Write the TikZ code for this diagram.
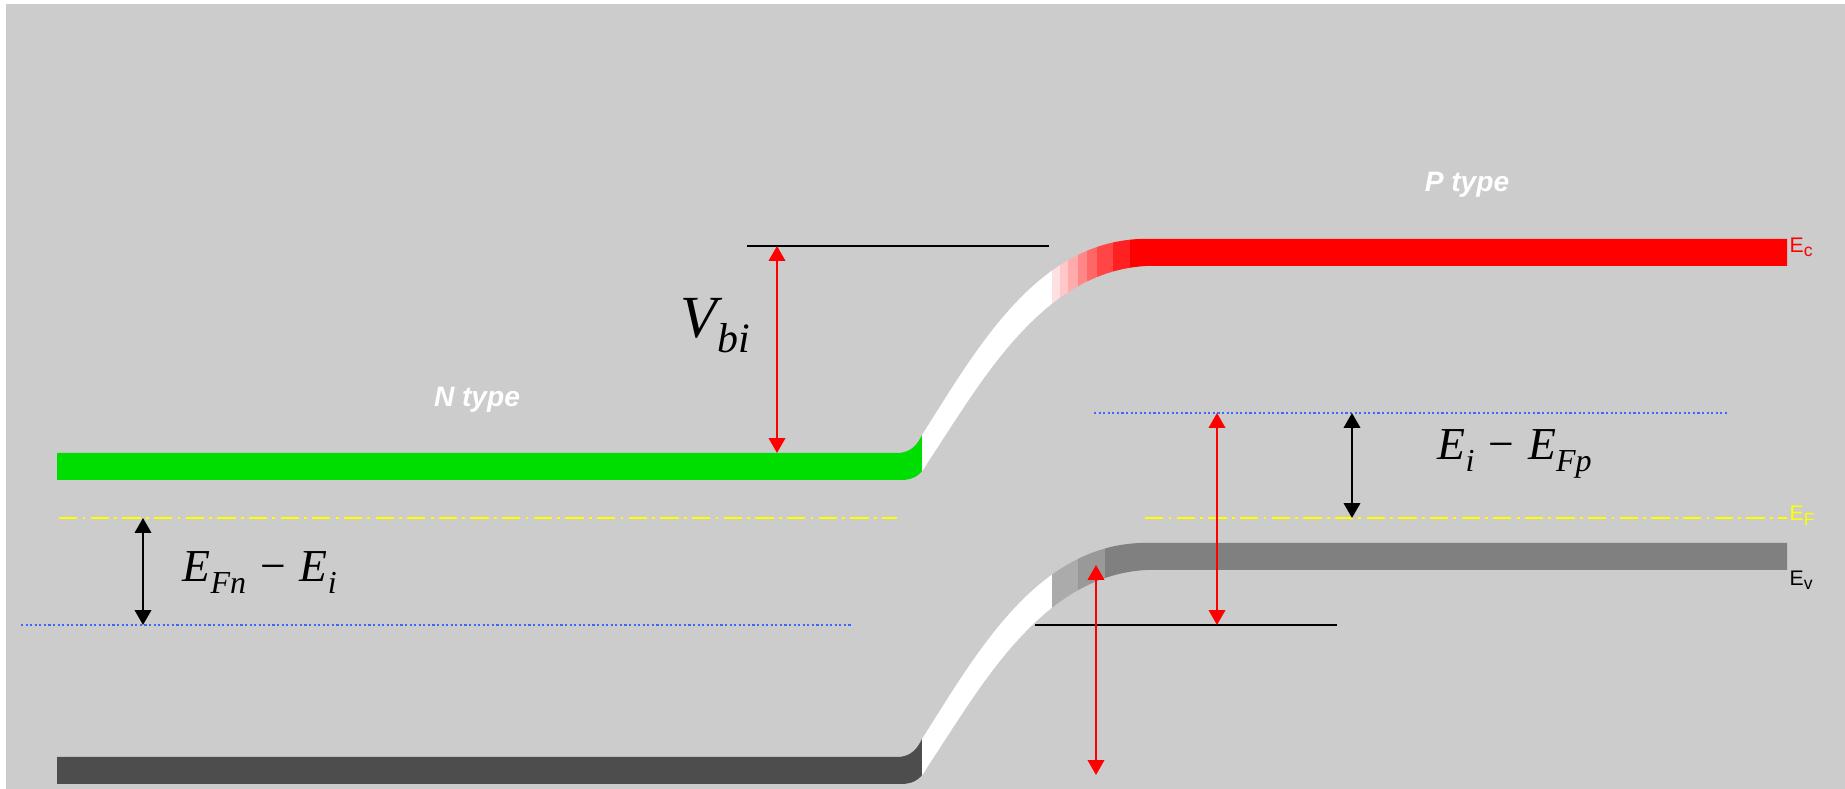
\documentclass[tikz,border=0pt]{standalone}
\usepackage{fontspec}
\setmainfont{Liberation Serif}
\setsansfont{Liberation Sans}
\usetikzlibrary{arrows.meta}
\definecolor{panel}{HTML}{CCCCCC}
\definecolor{ngreen}{HTML}{00DD00}
\definecolor{cbred}{HTML}{FF0000}
\definecolor{vbdark}{HTML}{4D4D4D}
\definecolor{vbgray}{HTML}{808080}
\definecolor{fermiyellow}{HTML}{FFFF00}
\definecolor{midgapblue}{HTML}{3F66FF}
\newcommand{\lowsub}[1]{\raisebox{-0.25em}{\scalebox{0.7}{#1}}}
\newcommand{\bandoutline}[1]{(57,453+#1) -- (897,453+#1) .. controls (912,453+#1) and (918,443+#1) .. (922,435+#1) .. controls (975,352+#1) and (1035,243+#1) .. (1140,239+#1) -- (1787,239+#1) -- (1787,266+#1) -- (1146,266+#1) .. controls (1041,272+#1) and (981,382+#1) .. (928,462+#1) .. controls (922,473+#1) and (916,480+#1) .. (901,480+#1) -- (57,480+#1) -- cycle}
\tikzset{
  levelline/.style={draw=black,line width=0.6pt},
  fermiline/.style={draw=fermiyellow,line width=0.7pt,dash pattern=on 5.2pt off 1.5pt on 0.8pt off 1.5pt},
  midgapline/.style={draw=midgapblue,line width=0.6pt,dash pattern=on 0.6pt off 0.7pt},
  gaparrow/.style={{Triangle[length=4.2pt,width=4.6pt]}-{Triangle[length=4.2pt,width=4.6pt]},line width=0.75pt,draw=black},
  bendarrow/.style={gaparrow,draw=cbred},
  typelabel/.style={font=\sffamily\bfseries\itshape\fontsize{8}{9}\selectfont,text=white,inner sep=0pt},
  bandname/.style={font=\sffamily\fontsize{6}{6}\selectfont,inner sep=0pt,anchor=base west},
  energylabel/.style={font=\itshape\fontsize{13}{15}\selectfont,inner sep=0pt,anchor=base west}
}
\begin{document}
\begin{tikzpicture}[x=0.01cm,y=-0.01cm]
\useasboundingbox (0,0) rectangle (1845,789);
\fill[white] (0,0) rectangle (1845,789);
\fill[panel] (6,4) rectangle (1845,789);

% conduction band
\begin{scope}
\clip \bandoutline{0};
\fill[ngreen] (0,0) rectangle (922,789);
\fill[white] (922,0) rectangle (1052,789);
\foreach \xa/\xb/\p in {1052/1060/12,1060/1068/22,1068/1078/33,1078/1087/47,1087/1097/60,1097/1113/73,1113/1130/87}
  \fill[cbred!\p!white] (\xa,0) rectangle (\xb,789);
\fill[cbred] (1130,0) rectangle (1845,789);
\end{scope}

% valence band
\begin{scope}
\clip \bandoutline{304};
\fill[vbdark] (0,0) rectangle (922,789);
\fill[white] (922,0) rectangle (1052,789);
\fill[black!33] (1052,0) rectangle (1078,789);
\fill[black!40] (1078,0) rectangle (1105,789);
\fill[vbgray] (1105,0) rectangle (1845,789);
\end{scope}

\coordinate (efnL) at (59,518);
\coordinate (efnR) at (897,518);
\coordinate (efpL) at (1145,518);
\coordinate (efpR) at (1787,518);
\coordinate (einL) at (21,625);
\coordinate (einR) at (852,625);
\coordinate (eipL) at (1094,413);
\coordinate (eipR) at (1727,413);
\coordinate (vbiL) at (747,246);
\coordinate (vbiR) at (1049,246);
\coordinate (refL) at (1035,625);
\coordinate (refR) at (1337,625);
\coordinate (vbiTop) at (777,246);
\coordinate (vbiBot) at (777,453);
\coordinate (eiTop) at (1217,413);
\coordinate (eiBot) at (1217,625);
\coordinate (evTop) at (1096,565);
\coordinate (evBot) at (1096,775);
\coordinate (fnTop) at (143,518);
\coordinate (fnBot) at (143,625);
\coordinate (fpTop) at (1352,413);
\coordinate (fpBot) at (1352,518);

\draw[fermiline] (efnL) -- (efnR);
\draw[fermiline] (efpL) -- (efpR);
\draw[midgapline] (einL) -- (einR);
\draw[midgapline] (eipL) -- (eipR);
\draw[levelline] (vbiL) -- (vbiR);
\draw[levelline] (refL) -- (refR);

\draw[bendarrow] (vbiTop) -- (vbiBot);
\draw[bendarrow] (eiTop) -- (eiBot);
\draw[bendarrow] (evTop) -- (evBot);
\draw[gaparrow] (fnTop) -- (fnBot);
\draw[gaparrow] (fpTop) -- (fpBot);

\node[typelabel] (ntype) at (477,400) {N type};
\node[typelabel] (ptype) at (1467,185) {P type};
\node[bandname,text=cbred] (ec) at (1789,253) {E\textsubscript{c}};
\node[bandname,text=fermiyellow] (ef) at (1789,521) {E\textsubscript{F}};
\node[bandname,text=black] (ev) at (1789,586) {E\textsubscript{v}};
\node[energylabel,font=\itshape\fontsize{17}{20}\selectfont] (vbi) at (680,338) {V\lowsub{bi}};
\node[energylabel] (efnei) at (182,582) {E\lowsub{Fn} − E\lowsub{i}};
\node[energylabel] (eiefp) at (1437,460) {E\lowsub{i} − E\lowsub{Fp}};
\end{tikzpicture}
\end{document}
